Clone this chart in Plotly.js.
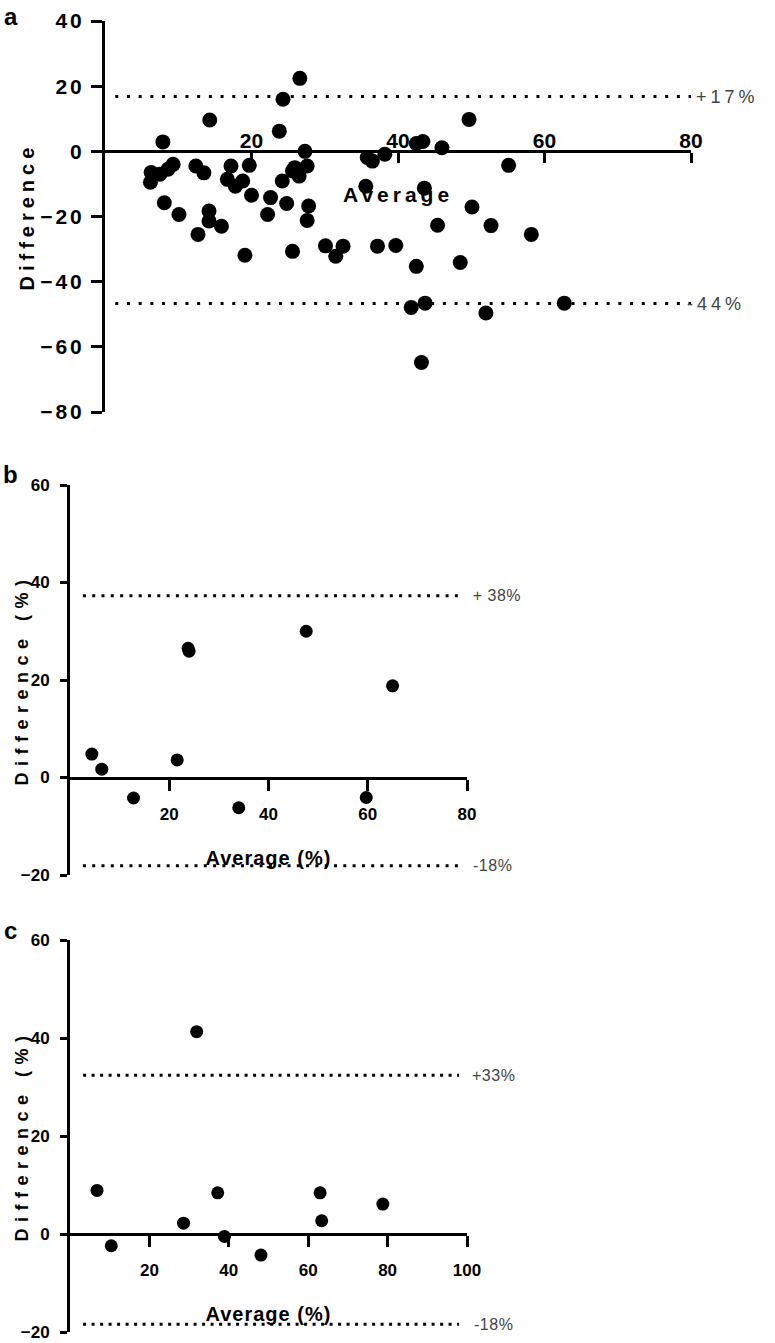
<!DOCTYPE html>
<html>
<head>
<meta charset="utf-8">
<script src="https://cdn.plot.ly/plotly-3.0.1.min.js"></script>
<style>
  html, body { margin: 0; padding: 0; background: #fff; }
  #plot { width: 775px; height: 1343px; }
  .xtick text, .ytick text { letter-spacing: 3px; }
  .subplot.x2y2 .xtick text, .subplot.x3y3 .xtick text { letter-spacing: 1px; }
  .subplot.x2y2 .ytick text, .subplot.x3y3 .ytick text { letter-spacing: 0.5px; }
</style>
</head>
<body>
<div id="plot"></div>
<script>
// ---------- data ----------
// Panel a
const aX = [26.6, 24.3, 14.3, 23.8, 7.9, 27.3, 6.3, 6.2, 7.5, 8.6, 9.3, 12.4, 13.5, 17.2, 19.7, 16.7, 17.8, 18.8, 20.0, 22.6, 24.8, 22.2, 24.2, 25.6, 26.5, 27.6, 25.9, 27.8, 27.6, 8.1, 10.1, 14.2, 14.2, 15.9, 12.7, 19.1, 25.6, 30.1, 32.5, 31.5, 37.2, 39.7, 35.6, 43.6, 50.1, 45.4, 52.7, 58.2, 42.5, 48.5, 41.8, 43.7, 52.0, 62.7, 43.2, 49.7, 55.1, 46.0, 43.4, 42.5, 35.8, 36.5, 38.2];
const aY = [22.4, 16.0, 9.6, 6.2, 2.9, 0.0, -6.5, -9.5, -7.0, -5.5, -4.0, -4.5, -6.6, -4.5, -4.3, -8.6, -10.7, -9.1, -13.5, -14.2, -16.0, -19.4, -9.1, -6.0, -7.6, -4.5, -5.0, -16.8, -21.2, -15.8, -19.4, -18.3, -21.4, -23.0, -25.5, -31.9, -30.7, -29.0, -29.1, -32.2, -29.1, -28.9, -10.7, -11.3, -17.1, -22.7, -22.8, -25.5, -35.3, -34.1, -47.9, -46.6, -49.6, -46.6, -64.8, 9.8, -4.3, 1.1, 3.0, 2.4, -1.9, -3.0, -0.9];
const aLoa = [16.8, -46.7];
const aLoaLabels = ['+17%', '-44%'];
const aLineX = [1.4, 80];
const aXTicks = [20, 40, 60, 80];
const aYTicks = [-80, -60, -40, -20, 0, 20, 40];

// Panel b
const bX = [4.4, 6.4, 12.8, 21.6, 23.8, 24.0, 34.0, 47.6, 59.7, 65.0];
const bY = [4.8, 1.7, -4.2, 3.6, 26.5, 25.9, -6.2, 30.0, -4.1, 18.8];
const bLoa = [37.3, -18.1];
const bLoaLabels = ['+ 38%', '-18%'];
const bLineX = [2.6, 78.8];
const bXTicks = [20, 40, 60, 80];
const bYTicks = [-20, 0, 20, 40, 60];

// Panel c
const cX = [6.8, 10.4, 28.6, 31.9, 37.2, 38.9, 48.1, 63.0, 63.4, 78.8];
const cY = [8.9, -2.4, 2.2, 41.3, 8.4, -0.5, -4.3, 8.4, 2.7, 6.1];
const cLoa = [32.4, -18.4];
const cLoaLabels = ['+33%', '-18%'];
const cLineX = [3.3, 98];
const cXTicks = [20, 40, 60, 80, 100];
const cYTicks = [-20, 0, 20, 40, 60];

// ---------- layout helpers ----------
const W = 775, H = 1343;
const px = p => p / W;
const py = p => 1 - p / H;
const FONT = 'Liberation Sans, Arial, Helvetica, sans-serif';

function zeroPos(yDom, yRange) {
  return yDom[0] + (0 - yRange[0]) / (yRange[1] - yRange[0]) * (yDom[1] - yDom[0]);
}

const aXDom = [px(105), px(691)];
const bXDom = [px(70), px(467)];
const cXDom = [px(70), px(467)];
const aYDom = [py(412), py(21)], aYRange = [-80, 40];
const bYDom = [py(875), py(485)], bYRange = [-20, 60];
const cYDom = [py(1332), py(940)], cYRange = [-20, 60];

const base = {
  showline: true, linewidth: 3, linecolor: '#000',
  ticks: 'outside', tickwidth: 3, tickcolor: '#000',
  showgrid: false, zeroline: false, fixedrange: true
};

function scatter(x, y, xa, ya, size) {
  return { x: x, y: y, xaxis: xa, yaxis: ya, type: 'scatter', mode: 'markers',
    marker: { color: '#000', size: size }, cliponaxis: false, showlegend: false, hoverinfo: 'skip' };
}
function loaLine(lineX, v, xa, ya, dash) {
  return { x: lineX, y: [v, v], xaxis: xa, yaxis: ya, type: 'scatter', mode: 'lines',
    line: { color: '#000', width: 3, dash: dash }, showlegend: false, hoverinfo: 'skip' };
}

const data = [
  loaLine(aLineX, aLoa[0], 'x', 'y', '3px,8.7px'),
  loaLine(aLineX, aLoa[1], 'x', 'y', '3px,8.7px'),
  scatter(aX, aY, 'x', 'y', 15),
  { x: [], y: [], xaxis: 'x4', yaxis: 'y', type: 'scatter', mode: 'markers', showlegend: false, hoverinfo: 'skip' },
  loaLine(bLineX, bLoa[0], 'x2', 'y2', '3px,6.3px'),
  loaLine(bLineX, bLoa[1], 'x2', 'y2', '3px,6.3px'),
  scatter(bX, bY, 'x2', 'y2', 13),
  loaLine(cLineX, cLoa[0], 'x3', 'y3', '3px,5.5px'),
  loaLine(cLineX, cLoa[1], 'x3', 'y3', '3px,5.5px'),
  scatter(cX, cY, 'x3', 'y3', 13)
];

const tickA = { family: FONT, size: 21, color: '#000', weight: 'bold' };
const tickBC = { family: FONT, size: 17, color: '#000', weight: 'bold' };

const annLS = [];
const annotations = [];
function ann(o, ls) { annotations.push(o); annLS.push(ls); }

// panel letters
ann({ text: 'a', xref: 'paper', yref: 'paper', x: px(2), y: py(1), xanchor: 'left', yanchor: 'top', showarrow: false,
  font: { family: FONT, size: 24, color: '#000', weight: 'bold' } }, 0);
ann({ text: 'b', xref: 'paper', yref: 'paper', x: px(1), y: py(459), xanchor: 'left', yanchor: 'top', showarrow: false,
  font: { family: FONT, size: 24, color: '#000', weight: 'bold' } }, 0);
ann({ text: 'c', xref: 'paper', yref: 'paper', x: px(2), y: py(915), xanchor: 'left', yanchor: 'top', showarrow: false,
  font: { family: FONT, size: 24, color: '#000', weight: 'bold' } }, 0);

// y titles
ann({ text: 'Difference', xref: 'paper', yref: 'y domain', x: px(13), y: 0.5, textangle: -90, showarrow: false,
  font: { family: FONT, size: 20, color: '#000', weight: 'bold' } }, 5);
ann({ text: 'Difference (%)', xref: 'paper', yref: 'y2 domain', x: px(10), y: 0.5, textangle: -90, showarrow: false,
  font: { family: FONT, size: 18, color: '#000', weight: 'bold' } }, 6.5);
ann({ text: 'Difference (%)', xref: 'paper', yref: 'y3 domain', x: px(10), y: 0.5, textangle: -90, showarrow: false,
  font: { family: FONT, size: 18, color: '#000', weight: 'bold' } }, 6.5);

// x titles
ann({ text: 'Average', xref: 'x', yref: 'y', x: 40, y: -13.2, showarrow: false,
  font: { family: FONT, size: 21, color: '#000', weight: 'bold' } }, 4);
ann({ text: 'Average (%)', xref: 'x2', yref: 'y2', x: 40, y: -16.5, showarrow: false,
  font: { family: FONT, size: 20, color: '#000', weight: 'bold' } }, 1);
ann({ text: 'Average (%)', xref: 'x3', yref: 'y3', x: 50, y: -16.3, showarrow: false,
  font: { family: FONT, size: 20, color: '#000', weight: 'bold' } }, 1);

// limit-of-agreement labels (placed just right of the plot area)
const labFontA = { family: FONT, size: 18, color: '#444' };
const labFontBC = { family: FONT, size: 16, color: '#444' };
ann({ text: aLoaLabels[0], xref: 'x domain', yref: 'y', x: 1.018, y: aLoa[0], xanchor: 'left', showarrow: false, font: labFontA }, 4);
ann({ text: aLoaLabels[1], xref: 'x domain', yref: 'y', x: 1.004, y: aLoa[1], xanchor: 'left', showarrow: false, font: labFontA }, 4);
ann({ text: bLoaLabels[0], xref: 'x2 domain', yref: 'y2', x: 1.012, y: bLoa[0], xanchor: 'left', showarrow: false, font: labFontBC }, 0.5);
ann({ text: bLoaLabels[1], xref: 'x2 domain', yref: 'y2', x: 1.012, y: bLoa[1], xanchor: 'left', showarrow: false, font: labFontBC }, 0.5);
ann({ text: cLoaLabels[0], xref: 'x3 domain', yref: 'y3', x: 1.010, y: cLoa[0], xanchor: 'left', showarrow: false, font: labFontBC }, 0.5);
ann({ text: cLoaLabels[1], xref: 'x3 domain', yref: 'y3', x: 1.014, y: cLoa[1], xanchor: 'left', showarrow: false, font: labFontBC }, 0.5);

const layout = {
  width: W, height: H,
  margin: { l: 0, r: 0, t: 0, b: 0, pad: 0 },
  paper_bgcolor: '#fff', plot_bgcolor: 'rgba(0,0,0,0)',
  showlegend: false,
  // panel a: tick marks below the zero line, tick labels drawn above it by an overlaying axis
  xaxis: Object.assign({}, base, {
    domain: aXDom, range: [0, 80], anchor: 'free', position: zeroPos(aYDom, aYRange),
    tickvals: aXTicks, ticklen: 10, showticklabels: false
  }),
  xaxis4: {
    overlaying: 'x', side: 'top', anchor: 'free', position: zeroPos(aYDom, aYRange),
    range: [0, 80], tickvals: aXTicks, ticks: '', showline: false, showgrid: false, zeroline: false,
    tickfont: tickA, ticklabelstandoff: -1, ticklabeloverflow: 'allow', fixedrange: true
  },
  yaxis: Object.assign({}, base, {
    domain: aYDom, range: aYRange, anchor: 'x',
    tickvals: aYTicks, ticklen: 11, tickfont: tickA, ticklabelstandoff: 2
  }),
  xaxis2: Object.assign({}, base, {
    domain: bXDom, range: [0, 80], anchor: 'free', position: zeroPos(bYDom, bYRange),
    tickvals: bXTicks, ticklen: 11, tickfont: tickBC, ticklabelstandoff: 9
  }),
  yaxis2: Object.assign({}, base, {
    domain: bYDom, range: bYRange, anchor: 'x2',
    tickvals: bYTicks, ticklen: 7, tickfont: { family: FONT, size: 17, color: '#000', weight: 'bold' }, ticklabelstandoff: 7
  }),
  xaxis3: Object.assign({}, base, {
    domain: cXDom, range: [0, 100], anchor: 'free', position: zeroPos(cYDom, cYRange),
    tickvals: cXTicks, ticklen: 11, tickfont: tickBC, ticklabelstandoff: 9
  }),
  yaxis3: Object.assign({}, base, {
    domain: cYDom, range: cYRange, anchor: 'x3',
    tickvals: cYTicks, ticklen: 7, tickfont: { family: FONT, size: 17, color: '#000', weight: 'bold' }, ticklabelstandoff: 7
  }),
  annotations: annotations
};

Plotly.newPlot('plot', data, layout, { staticPlot: true, displayModeBar: false }).then(function (gd) {
  const groups = gd.querySelectorAll('g.annotation');
  groups.forEach(function (g, i) {
    const ls = annLS[i];
    if (ls) {
      g.querySelectorAll('text').forEach(function (t) { t.style.letterSpacing = ls + 'px'; });
    }
  });
});
</script>
</body>
</html>
